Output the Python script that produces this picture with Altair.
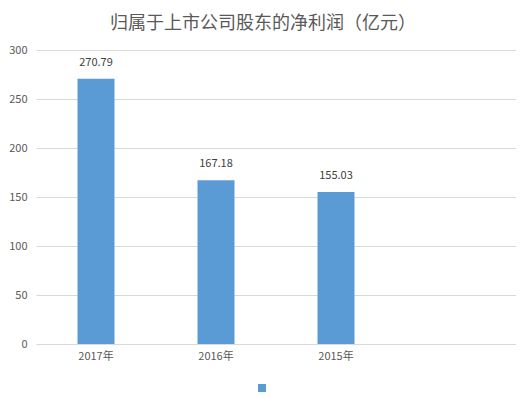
import altair as alt
import pandas as pd

categories = ["2017年", "2016年", "2015年"]
values = [270.79, 167.18, 155.03]
x_domain = ["2017年", "2016年", "2015年", ""]
series_name = " "
y_ticks = [0, 50, 100, 150, 200, 250, 300]
title_text = "归属于上市公司股东的净利润（亿元）"

df = pd.DataFrame({"year": categories, "value": values, "series": [series_name] * len(categories)})

font = "Noto Sans CJK SC"
bar_color = "#5b9bd5"

base = alt.Chart(df).encode(
    x=alt.X("year:N", sort=x_domain,
            scale=alt.Scale(domain=x_domain, paddingInner=0, paddingOuter=0),
            axis=alt.Axis(title=None, labelAngle=0, ticks=False, domain=False,
                          labelColor="#595959", labelFont=font, labelFontSize=11, labelPadding=6)),
    y=alt.Y("value:Q", scale=alt.Scale(domain=[0, 300], nice=False),
            axis=alt.Axis(title=None, values=y_ticks, ticks=False, domain=False,
                          gridColor="#d9d9d9", labelColor="#595959", labelFont=font,
                          labelFontSize=11, labelPadding=9)),
)

bars = base.mark_bar(size=37).encode(
    color=alt.Color("series:N", scale=alt.Scale(domain=[series_name], range=[bar_color]),
                    legend=alt.Legend(title=None, orient="none", legendX=222, legendY=334,
                                      symbolType="square", symbolSize=64, symbolStrokeWidth=0,
                                      labelFontSize=1, padding=0))
)

labels = base.mark_text(dy=-11, baseline="bottom", font=font, fontSize=11, color="#404040").encode(
    text=alt.Text("value:Q", format=".2f")
)

chart = (bars + labels).properties(
    width=480, height=294,
    padding={"left": 0, "top": 7, "right": 0, "bottom": 0},
    title=alt.TitleParams(title_text, font=font, fontSize=18, fontWeight="normal",
                          color="#595959", offset=11, dx=-13, anchor="middle"),
).configure_view(stroke=None).configure_axisX(grid=False)

chart.save("out.html", embed_options={"renderer": "svg", "actions": False})
